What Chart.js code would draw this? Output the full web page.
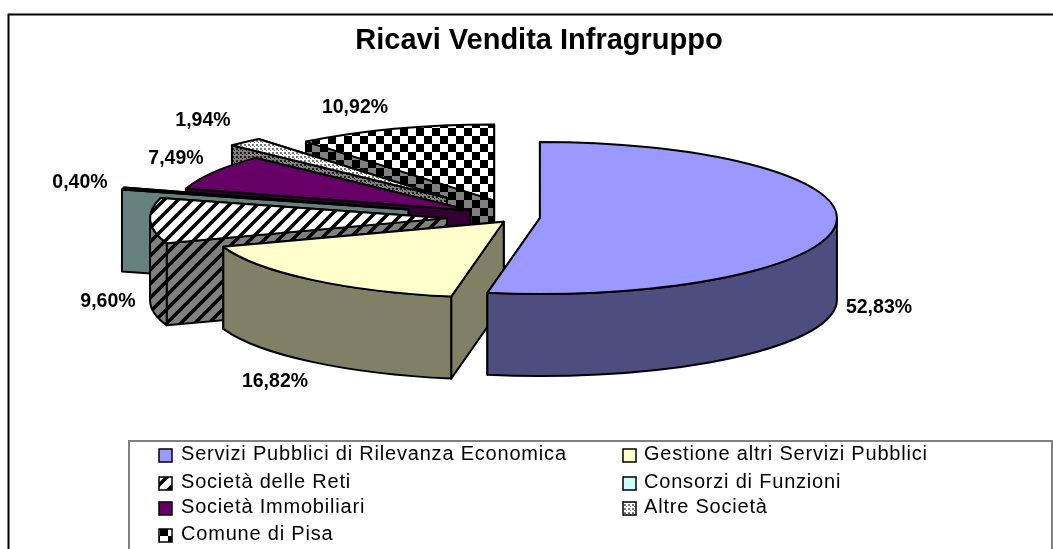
<!DOCTYPE html>
<html><head><meta charset="utf-8">
<style>html,body{margin:0;padding:0;background:#fff;overflow:hidden}canvas{display:block}</style>
<script src="https://cdn.jsdelivr.net/npm/chart.js@4"></script>
</head><body><canvas id="c" width="1053" height="549"></canvas>
<script>
const categories = ["Servizi Pubblici di Rilevanza Economica","Gestione altri Servizi Pubblici","Società delle Reti","Consorzi di Funzioni","Società Immobiliari","Altre Società","Comune di Pisa"];
const shares = [52.83,16.82,9.60,0.40,7.49,1.94,10.92];
const explode = [22,22,71,114,55,105,71];
const labelCentres = [[879,308],[275,382],[108,302],[80,183],[176,159],[203,121],[355,108]];
const topColours = ["#9999FF","#FFFFCC","#FFFFFF","#CCFFFF","#660066","#FFFFFF","#FFFFFF"];
const sideColours = ["#4D4D80","#808066","#808080","#668080","#330033","#808080","#808080"];
const patterns = [null,null,"stripe",null,null,"dots","check"];
const PIE_CX=518, PIE_CY=217.5, RADIUS=297, TILT=76/297, DEPTH=82;

function tile(kind,bg){
  const t=document.createElement('canvas'),g=t.getContext('2d');
  const s=kind==='stripe'?14:kind==='dots'?4:16;
  t.width=t.height=s;g.fillStyle=bg;g.fillRect(0,0,s,s);g.fillStyle='#000';
  if(kind==='check'){g.fillRect(0,0,8,8);g.fillRect(8,8,8,8);}
  if(kind==='dots'){g.fillStyle=bg==='#FFFFFF'?'#777':'#222';g.fillRect(0,0,2,2);g.fillRect(2,2,1,1);}
  if(kind==='stripe'){
    g.strokeStyle='#000';g.lineWidth=3.5;
    [-14,0,14].forEach(o=>{g.beginPath();g.moveTo(o-1,s+1);g.lineTo(o+s+1,-1);g.stroke();});
  }
  return t;
}
function paint(ctx,i,colours){
  if(!patterns[i])return colours[i];
  return ctx.createPattern(tile(patterns[i],colours[i]),'repeat');
}
const pieRender={
  id:'pieRender',
  beforeDraw(chart){
    const c=chart.ctx;c.save();c.fillStyle='#fff';c.fillRect(0,0,1053,549);
    c.strokeStyle='#000';c.lineWidth=2;c.beginPath();c.moveTo(8.5,549);c.lineTo(8.5,14.5);c.lineTo(1053,14.5);c.stroke();c.restore();
  },
  beforeDatasetsDraw(chart){
    const c=chart.ctx,arcs=chart.getDatasetMeta(0).data;
    c.save();c.lineWidth=2;c.lineJoin='round';c.strokeStyle='#000';
    for(let i=arcs.length-1;i>=0;i--){
      const a=arcs[i],s=a.startAngle,e=a.endAngle,m=(s+e)/2;
      const x=PIE_CX+Math.cos(m)*explode[i],y=PIE_CY+Math.sin(m)*explode[i]*TILT;
      const pt=t=>[x+RADIUS*Math.cos(t),y+RADIUS*TILT*Math.sin(t)];
      const side=paint(c,i,sideColours),top=paint(c,i,topColours);
      [e,s].forEach(t=>{const p=pt(t);c.beginPath();c.moveTo(x,y);c.lineTo(p[0],p[1]);c.lineTo(p[0],p[1]+DEPTH);c.lineTo(x,y+DEPTH);c.closePath();c.fillStyle=side;c.fill();c.stroke();});
      const lo=Math.max(s,0),hi=Math.min(e,Math.PI);
      if(hi>lo){
        c.beginPath();c.ellipse(x,y,RADIUS,RADIUS*TILT,0,lo,hi);c.ellipse(x,y+DEPTH,RADIUS,RADIUS*TILT,0,hi,lo,true);c.closePath();c.fillStyle=side;c.fill();c.stroke();
      }
      c.beginPath();c.moveTo(x,y);c.ellipse(x,y,RADIUS,RADIUS*TILT,0,s,e);c.closePath();c.fillStyle=top;c.fill();c.stroke();
    }
    c.restore();
    return false;
  },
  afterDraw(chart){
    const c=chart.ctx;c.save();
    c.fillStyle='#000';c.textAlign='center';c.textBaseline='middle';c.font='bold 19.5px "Liberation Sans"';
    shares.forEach((v,i)=>c.fillText(v.toFixed(2).replace('.',',')+'%',labelCentres[i][0],labelCentres[i][1]));
    c.strokeStyle='#808080';c.lineWidth=2;c.beginPath();c.moveTo(129,549);c.lineTo(129,441);c.lineTo(1052,441);c.lineTo(1052,549);c.stroke();
    c.textAlign='left';c.font='20px "Liberation Sans"';c.letterSpacing='0.8px';
    const rows=[454,482,507,534],cols=[[159,181],[623,644]];
    categories.forEach((n,i)=>{
      const r=rows[Math.floor(i/2)],k=cols[i%2];
      c.fillStyle=paint(c,i,topColours);c.strokeStyle='#000';c.lineWidth=1.5;
      c.fillRect(k[0],r-5,13,13);c.strokeRect(k[0],r-5,13,13);
      c.fillStyle='#000';c.fillText(n,k[1],r);
    });
    c.restore();
  }
};
new Chart(document.getElementById('c'),{
  type:'pie',
  data:{labels:categories,datasets:[{data:shares,backgroundColor:topColours}]},
  options:{
    responsive:false,animation:false,
    layout:{padding:{left:25,right:0,top:0,bottom:0}},
    plugins:{
      legend:{display:false},tooltip:{enabled:false},
      title:{display:true,text:"Ricavi Vendita Infragruppo",color:'#000',font:{family:'"Liberation Sans"',size:29,weight:'bold'},padding:{top:24,bottom:10}}
    }
  },
  plugins:[pieRender]
});
</script></body></html>
